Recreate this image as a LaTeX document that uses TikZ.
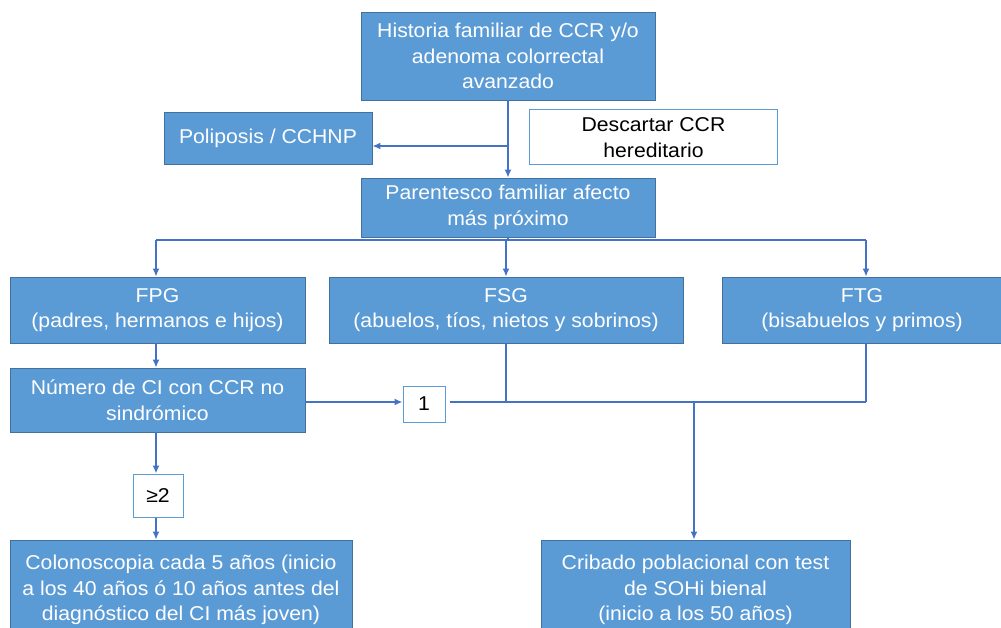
\documentclass[tikz,border=0pt]{standalone}
\usepackage{fontspec}
\setmainfont[FakeStretch=1.06]{Liberation Sans}
\usetikzlibrary{arrows.meta}
\definecolor{boxblue}{HTML}{5B9BD5}
\definecolor{boxline}{HTML}{41719C}
\definecolor{arrblue}{HTML}{4472C4}

\begin{document}
\begin{tikzpicture}[x=1pt,y=-1pt,font=\fontsize{20}{25.5}\selectfont,
    box/.style={rectangle,draw=boxline,fill=boxblue,text=white,align=center,inner sep=2pt,line width=0.8pt},
    note/.style={rectangle,draw=boxblue,fill=white,text=black,align=center,inner sep=2pt,line width=1pt},
    arr/.style={-{Latex[length=8pt,width=7pt]},line width=1.8pt,draw=arrblue},
    wire/.style={line width=1.8pt,draw=arrblue}]
\useasboundingbox (0,0) rectangle (1001,628);
\node[box,minimum width=294pt,minimum height=88pt] (hist) at (508,56) {Historia familiar de CCR y/o\\adenoma colorrectal\\avanzado};
\node[box,minimum width=208pt,minimum height=52pt] (poli) at (268,138) {Poliposis / CCHNP};
\node[note,minimum width=248pt,minimum height=55pt] (desc) at (653.5,137.5) {Descartar CCR\\hereditario};
\node[box,minimum width=294pt,minimum height=59pt] (par) at (508,207.5) {Parentesco familiar afecto\\más próximo};
\node[box,minimum width=295pt,minimum height=66pt] (fpg) at (157.5,310) {FPG\\(padres, hermanos e hijos)};
\node[box,minimum width=354pt,minimum height=66pt] (fsg) at (506,310) {FSG\\(abuelos, tíos, nietos y sobrinos)};
\node[box,minimum width=280pt,minimum height=66pt] (ftg) at (862,310) {FTG\\(bisabuelos y primos)};
\node[box,minimum width=295pt,minimum height=64pt] (num) at (157.5,400) {Número de CI con CCR no\\sindrómico};
\node[note,minimum width=42pt,minimum height=36pt] (one) at (424,404) {1};
\node[note,minimum width=50pt,minimum height=43pt] (ge2) at (158,495.5) {≥2};
\node[box,minimum width=342pt,minimum height=100pt] (colo) at (181,590) {Colonoscopia cada 5 años (inicio\\a los 40 años ó 10 años antes del\\diagnóstico del CI más joven)};
\node[box,minimum width=309pt,minimum height=100pt] (crib) at (695.5,590) {Cribado poblacional con test\\de SOHi bienal\\(inicio a los 50 años)};
% junctions
\coordinate (split) at (508,146);
\coordinate (bus) at (508,240);
\coordinate (busL) at (156,240);
\coordinate (busR) at (866,240);
\coordinate (join) at (866,402);
\coordinate (drop) at (694,402);
\draw[arr] (hist) -- (par);
\draw[arr] (split) -- (split -| poli.east);
\draw[wire] (par) -- (bus);
\draw[wire] (busL) -- (busR);
\draw[arr] (busL) -- (busL |- fpg.north);
\draw[arr] (bus -| fsg.north) -- (fsg.north);
\draw[arr] (busR) -- (busR |- ftg.north);
\draw[arr] (busL |- fpg.south) -- (busL |- num.north);
\draw[arr] (num.east |- join) -- (one.west |- join);
\draw[wire] ([xshift=4pt]one.east |- join) -- (join);
\draw[wire] (fsg.south) -- (fsg.south |- join);
\draw[wire] (busR |- ftg.south) -- (join);
\draw[arr] (drop) -- (drop |- crib.north);
\draw[arr] (busL |- num.south) -- (busL |- ge2.north);
\draw[arr] (busL |- ge2.south) -- (busL |- colo.north);
\end{tikzpicture}
\end{document}
